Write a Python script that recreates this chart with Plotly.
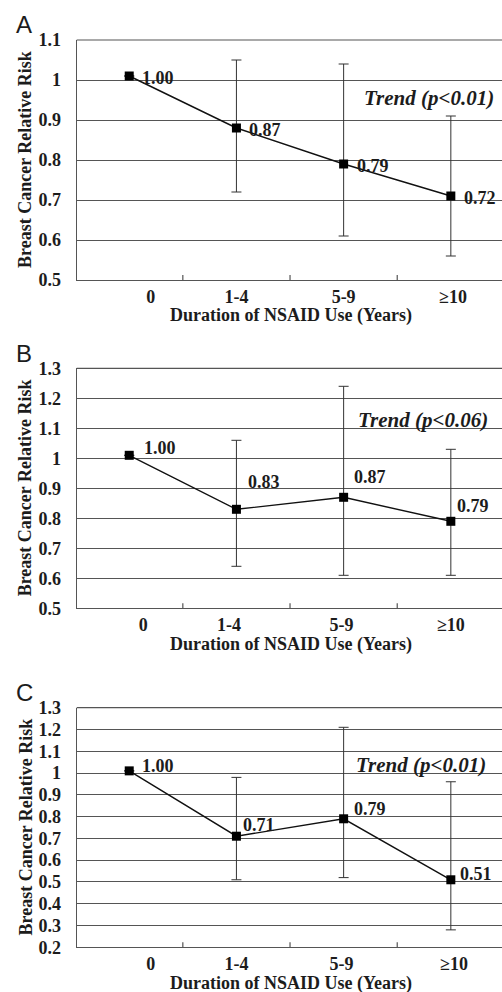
import plotly.graph_objects as go

W, H = 502, 992

categories = ["0", "1-4", "5-9", "≥10"]

# Panel A
a_rr = [1.01, 0.88, 0.79, 0.71]
a_labels = ["1.00", "0.87", "0.79", "0.72"]
a_upper = [None, 1.05, 1.04, 0.91]
a_lower = [None, 0.72, 0.61, 0.56]
a_trend = "Trend (p<0.01)"
a_yticks = [0.5, 0.6, 0.7, 0.8, 0.9, 1.0, 1.1]

# Panel B
b_rr = [1.01, 0.83, 0.87, 0.79]
b_labels = ["1.00", "0.83", "0.87", "0.79"]
b_upper = [None, 1.06, 1.24, 1.03]
b_lower = [None, 0.64, 0.61, 0.61]
b_trend = "Trend (p<0.06)"
b_yticks = [0.5, 0.6, 0.7, 0.8, 0.9, 1.0, 1.1, 1.2, 1.3]

# Panel C
c_rr = [1.01, 0.71, 0.79, 0.51]
c_labels = ["1.00", "0.71", "0.79", "0.51"]
c_upper = [None, 0.98, 1.21, 0.96]
c_lower = [None, 0.51, 0.52, 0.28]
c_trend = "Trend (p<0.01)"
c_yticks = [0.2, 0.3, 0.4, 0.5, 0.6, 0.7, 0.8, 0.9, 1.0, 1.1, 1.2, 1.3]

x_title = "Duration of NSAID Use (Years)"
y_title = "Breast Cancer Relative Risk"

SERIF = "Liberation Serif, Times New Roman, serif"
TXT = "#1c1c1c"
GRID = "#555555"


def px_x(p):
    return p / W


def px_y(p):
    return 1 - p / H


panels = [
    dict(letter="A", rr=a_rr, labels=a_labels, up=a_upper, lo=a_lower, trend=a_trend,
         yticks=a_yticks, top=40, bottom=280, letter_y=25, xtitle_y=315,
         trend_xy=(496, 98), lab_off=[(11, -2), (11, -2), (11, -2), (11, -2)],
         xtickpos=[0.2, 1.0, 2.0, 3.02]),
    dict(letter="B", rr=b_rr, labels=b_labels, up=b_upper, lo=b_lower, trend=b_trend,
         yticks=b_yticks, top=368.3, bottom=608.3, letter_y=353, xtitle_y=644,
         trend_xy=(490, 420), lab_off=[(13, 7), (10, 27), (8, 20), (4, 15)],
         xtickpos=[0.13, 0.93, 1.98, 3.0]),
    dict(letter="C", rr=c_rr, labels=c_labels, up=c_upper, lo=c_lower, trend=c_trend,
         yticks=c_yticks, top=707.7, bottom=947.3, letter_y=692, xtitle_y=983,
         trend_xy=(488, 765), lab_off=[(11, 5), (5, 11), (8, 10), (7, 6)],
         xtickpos=[0.2, 1.0, 1.98, 3.03]),
]

x_left = 76.7
cat_w = 107.2
x_pos = list(range(len(categories)))
x_range = [-0.49, -0.49 + (W - x_left) / cat_w]

fig = go.Figure()
annotations = []
shapes = []

for i, p in enumerate(panels):
    n = "" if i == 0 else str(i + 1)
    xa, ya = "x" + n, "y" + n
    ep = [None if u is None else u - r for u, r in zip(p["up"], p["rr"])]
    em = [None if l is None else r - l for l, r in zip(p["lo"], p["rr"])]
    fig.add_trace(go.Scatter(
        x=x_pos, y=p["rr"], xaxis=xa, yaxis=ya, mode="lines+markers",
        line=dict(color="#111", width=1.4),
        marker=dict(symbol="square", size=9, color="#000"),
        error_y=dict(type="data", array=ep, arrayminus=em, symmetric=False,
                     color="#333", thickness=1, width=5),
        showlegend=False, cliponaxis=False, hoverinfo="skip",
    ))
    dom_y = [px_y(p["bottom"]), px_y(p["top"])]
    fig.layout["xaxis" + n] = dict(
        domain=[px_x(x_left), 1], range=x_range, anchor=ya, automargin=False,
        tickmode="array", tickvals=p["xtickpos"], ticktext=categories,
        ticks="", ticklen=0,
        tickfont=dict(family=SERIF, size=18, color=TXT, weight="bold"),
        showline=True, linecolor=GRID, linewidth=1.3, showgrid=False, zeroline=False,
        fixedrange=True,
    )
    fig.layout["yaxis" + n] = dict(
        domain=dom_y, range=[p["yticks"][0], p["yticks"][-1]], anchor=xa, automargin=False,
        tickmode="array", tickvals=p["yticks"], ticktext=[f"{v:g}" for v in p["yticks"]],
        ticks="outside", ticklen=11, tickcolor="rgba(0,0,0,0)",
        tickfont=dict(family=SERIF, size=18, color=TXT, weight="bold"),
        showline=True, linecolor=GRID, linewidth=1.3,
        showgrid=True, gridcolor=GRID, gridwidth=1.1, zeroline=False, fixedrange=True,
    )
    # small inside category separator ticks
    for b in [k + 0.5 for k in x_pos[:-1]]:
        shapes.append(dict(type="line", xref=xa, yref=ya + " domain", x0=b, x1=b,
                           y0=0, y1=5 / (p["bottom"] - p["top"]),
                           line=dict(color=GRID, width=1.2)))
    # top border line
    shapes.append(dict(type="line", xref="paper", yref=ya + " domain",
                       x0=px_x(x_left), x1=1, y0=1, y1=1, line=dict(color=GRID, width=1.2)))
    # data labels
    for k, (xv, yv, t) in enumerate(zip(x_pos, p["rr"], p["labels"])):
        dx, dy = p["lab_off"][k]
        annotations.append(dict(x=xv, y=yv, xref=xa, yref=ya, text=f"<b>{t}</b>",
                                showarrow=False, xanchor="left", yanchor="middle",
                                xshift=dx, yshift=dy,
                                font=dict(family=SERIF, size=18, color=TXT)))
    # trend
    tx, ty = p["trend_xy"]
    annotations.append(dict(x=px_x(tx), y=px_y(ty), xref="paper", yref="paper",
                            text=f"<b><i>{p['trend']}</i></b>", showarrow=False,
                            xanchor="right", yanchor="middle",
                            font=dict(family=SERIF, size=21, color=TXT)))
    # panel letter
    annotations.append(dict(x=px_x(14), y=px_y(p["letter_y"]), xref="paper", yref="paper",
                            text=p["letter"], showarrow=False, xanchor="left", yanchor="middle",
                            font=dict(family="Liberation Sans, Arial, sans-serif", size=24,
                                      color=TXT)))
    # axis titles
    annotations.append(dict(x=px_x(291), y=px_y(p["xtitle_y"]), xref="paper", yref="paper",
                            text=f"<b>{x_title}</b>", showarrow=False,
                            xanchor="center", yanchor="middle",
                            font=dict(family=SERIF, size=18, color=TXT)))
    annotations.append(dict(x=px_x(25), y=px_y((p["top"] + p["bottom"]) / 2),
                            xref="paper", yref="paper",
                            text=f"<b>{y_title}</b>", showarrow=False, textangle=-90,
                            xanchor="center", yanchor="middle",
                            font=dict(family=SERIF, size=18, color=TXT)))

fig.update_layout(
    width=W, height=H, margin=dict(l=0, r=0, t=0, b=0),
    paper_bgcolor="white", plot_bgcolor="white",
    annotations=annotations, shapes=shapes, showlegend=False,
)

fig.write_html("out.html", config={"displayModeBar": False},
               post_script="document.body.style.margin='0';")
